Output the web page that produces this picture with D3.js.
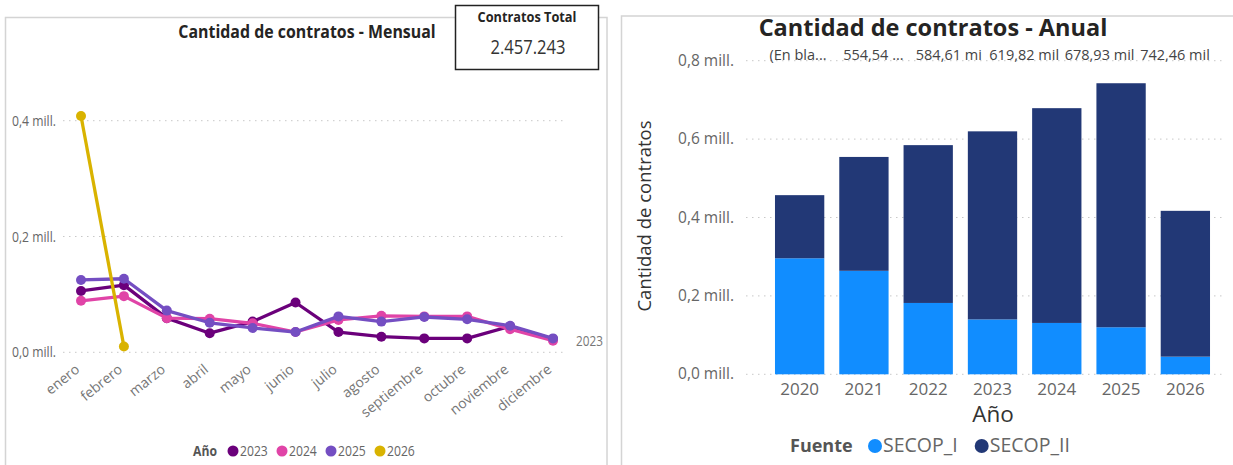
<!DOCTYPE html>
<html>
<head>
<meta charset="utf-8">
<script src="https://cdn.jsdelivr.net/npm/d3@7"></script>
<style>
  body { margin: 0; background: #fff; }
  svg { display: block; }
  text { font-family: "Open Sans", "Noto Sans", sans-serif; }
</style>
</head>
<body>
<svg id="chart" width="1233" height="465"></svg>
<script>
// ---- datos: mensual (miles de contratos)
const meses = ["enero", "febrero", "marzo", "abril", "mayo", "junio", "julio", "agosto", "septiembre", "octubre", "noviembre", "diciembre"];
const anios = ["2023", "2024", "2025", "2026"];
const v2023 = [106, 116, 59, 33, 53, 86, 35, 27, 24, 24, 45, 23];
const v2024 = [89, 97, 59, 58, 50, 35, 56, 63, 62, 62, 40, 20];
const v2025 = [125, 127, 72, 51, 42, 35, 62, 53, 61, 57, 46, 24];
const v2026 = [408, 10];
const coloresAnio = ["#6B007B", "#E044A7", "#744EC2", "#D9B300"];
const ticksMensual = [0, 200, 400];
const ticksMensualTxt = ["0,0 mill.", "0,2 mill.", "0,4 mill."];

// ---- datos: anual (miles de contratos)
const aniosBar = ["2020", "2021", "2022", "2023", "2024", "2025", "2026"];
const secopI = [296, 264, 182, 140, 131, 120, 45];
const secopII = [161, 290.5, 402.6, 479.8, 547.9, 622.5, 372];
const fuentes = ["SECOP_I", "SECOP_II"];
const coloresFuente = ["#118DFF", "#223876"];
const ticksAnual = [0, 200, 400, 600, 800];
const ticksAnualTxt = ["0,0 mill.", "0,2 mill.", "0,4 mill.", "0,6 mill.", "0,8 mill."];
const etiquetasTotal = ["(En bla...", "554,54 ...", "584,61 mi", "619,82 mil", "678,93 mil", "742,46 mil"];

const totalContratos = "2.457.243";

const svg = d3.select("#chart");
const SQ = 0.84; // el panel izquierdo se ve comprimido en horizontal

function txt(g, x, y, s, sx) {
	return g.append("text").attr("transform", `translate(${x},${y}) scale(${sx || 1},1)`).text(s);
}

// ================= panel izquierdo =================
const left = svg.append("g");
left.append("rect").attr("x", 5.5).attr("y", 17.5).attr("width", 601.5).attr("height", 460)
	.attr("fill", "none").attr("stroke", "#d4d4d4").attr("stroke-width", 1.5);

txt(left, 307, 38, "Cantidad de contratos - Mensual", 0.86)
	.attr("text-anchor", "middle").attr("font-size", 18.5).attr("font-weight", 700).attr("fill", "#252423");

const xM = d3.scalePoint().domain(meses).range([81, 553]);
const yM = d3.scaleLinear().domain([0, 400]).range([352.3, 120.7]);

// grid
left.selectAll(".gl").data(ticksMensual).enter().append("line")
	.attr("x1", 63).attr("x2", 567)
	.attr("y1", d => yM(d)).attr("y2", d => yM(d))
	.attr("stroke", "#c8c8c8").attr("stroke-dasharray", "1.5,4.5");
ticksMensual.forEach((t, i) => {
	txt(left, 12, yM(t) + 5, ticksMensualTxt[i], SQ).attr("font-size", 14.5).attr("fill", "#666");
});

meses.forEach(m => {
	left.append("text").attr("transform", `translate(${xM(m) - 0.5},371) rotate(-39)`)
		.attr("text-anchor", "end").attr("font-size", 14).attr("fill", "#777").text(m);
});

const series = [v2023, v2024, v2025, v2026];
const line = d3.line().x((d, i) => xM(meses[i])).y(d => yM(d));
series.forEach((s, k) => {
	const g = left.append("g");
	g.append("path").datum(s).attr("d", line).attr("fill", "none")
		.attr("stroke", coloresAnio[k]).attr("stroke-width", 3.3).attr("stroke-linejoin", "round");
	g.selectAll("circle").data(s).enter().append("circle")
		.attr("cx", (d, i) => xM(meses[i])).attr("cy", d => yM(d)).attr("r", 5)
		.attr("fill", coloresAnio[k]);
});

txt(left, 576, 346, "2023", SQ).attr("font-size", 14).attr("fill", "#777");

// leyenda izquierda
const legL = left.append("g");
txt(legL, 193, 456, "Año", SQ).attr("font-size", 14.5).attr("font-weight", 700).attr("fill", "#555");
const legX = [233, 282, 331, 380];
anios.forEach((a, i) => {
	legL.append("circle").attr("cx", legX[i]).attr("cy", 451).attr("r", 5.5).attr("fill", coloresAnio[i]);
	txt(legL, legX[i] + 7, 456, a, SQ).attr("font-size", 14.5).attr("fill", "#666");
});

// tarjeta total
const card = svg.append("g");
card.append("rect").attr("x", 455.5).attr("y", 5.5).attr("width", 143).attr("height", 64)
	.attr("fill", "#fff").attr("stroke", "#222").attr("stroke-width", 1.5);
txt(card, 527, 22, "Contratos Total", 0.85).attr("text-anchor", "middle")
	.attr("font-family", "Liberation Sans, Arial, sans-serif").attr("font-size", 15).attr("font-weight", 700).attr("fill", "#252423");
txt(card, 528, 54, totalContratos, 0.83).attr("text-anchor", "middle")
	.attr("font-family", "Liberation Sans, Arial, sans-serif").attr("font-size", 20).attr("fill", "#333");

// ================= panel derecho =================
const right = svg.append("g");
right.append("rect").attr("x", 621.5).attr("y", 16).attr("width", 640).attr("height", 460)
	.attr("fill", "none").attr("stroke", "#d4d4d4").attr("stroke-width", 1.5);

right.append("text").attr("x", 933).attr("y", 36).attr("text-anchor", "middle")
	.attr("font-size", 23.5).attr("font-weight", 700).attr("fill", "#252423")
	.text("Cantidad de contratos - Anual");

const xA = d3.scaleBand().domain(aniosBar).range([760, 1225]).padding(0.233);
const yA = d3.scaleLinear().domain([0, 800]).range([374.3, 60.7]);

right.selectAll(".ga").data(ticksAnual).enter().append("line")
	.attr("x1", 746).attr("x2", 1226)
	.attr("y1", d => yA(d)).attr("y2", d => yA(d))
	.attr("stroke", "#c8c8c8").attr("stroke-dasharray", "1.5,4.5");
ticksAnual.forEach((t, i) => {
	right.append("text").attr("x", 734).attr("y", yA(t) + 5).attr("text-anchor", "end")
		.attr("font-size", 15.5).attr("fill", "#666").text(ticksAnualTxt[i]);
});

const stackData = aniosBar.map((a, i) => ({ anio: a, SECOP_I: secopI[i], SECOP_II: secopII[i] }));
const stack = d3.stack().keys(fuentes)(stackData);
right.selectAll(".serie").data(stack).enter().append("g")
	.attr("fill", (d, i) => coloresFuente[i])
	.selectAll("rect").data(d => d).enter().append("rect")
	.attr("x", d => xA(d.data.anio)).attr("width", xA.bandwidth())
	.attr("y", d => yA(d[1])).attr("height", d => yA(d[0]) - yA(d[1]));

// etiquetas de total (muy juntas, como en el original)
const xEt = d3.scalePoint().domain(etiquetasTotal).range([798, 1175]);
etiquetasTotal.forEach(e => {
	right.append("text").attr("x", xEt(e)).attr("y", 59.5).attr("text-anchor", "middle")
		.attr("font-family", "Liberation Sans, Arial, sans-serif").attr("font-size", 14.5).attr("fill", "#444").text(e);
});

aniosBar.forEach(a => {
	right.append("text").attr("x", xA(a) + xA.bandwidth() / 2).attr("y", 395).attr("text-anchor", "middle")
		.attr("font-size", 17).attr("fill", "#666").text(a);
});

right.append("text").attr("x", 993).attr("y", 422).attr("text-anchor", "middle")
	.attr("font-size", 22.5).attr("fill", "#333").text("Año");
right.append("text").attr("transform", "translate(651,216) rotate(-90)").attr("text-anchor", "middle")
	.attr("font-size", 18.5).attr("fill", "#333").text("Cantidad de contratos");

// leyenda derecha
right.append("text").attr("x", 790).attr("y", 452).attr("font-size", 18).attr("font-weight", 700)
	.attr("fill", "#555").text("Fuente");
let lx = 875;
fuentes.forEach((f, i) => {
	right.append("circle").attr("cx", lx).attr("cy", 446).attr("r", 7).attr("fill", coloresFuente[i]);
	const t = right.append("text").attr("x", lx + 8).attr("y", 452).attr("font-size", 19.5).attr("fill", "#666").text(f);
	lx += 8 + t.node().getComputedTextLength() + 24;
});
</script>
</body>
</html>
